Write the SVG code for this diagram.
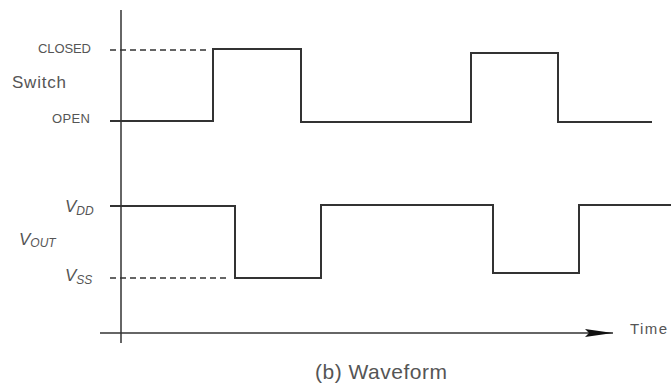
<svg xmlns="http://www.w3.org/2000/svg" width="671" height="391" viewBox="0 0 671 391">
<style>
.w{fill:none;stroke:#333;stroke-width:2;stroke-linejoin:miter}
.ax{fill:none;stroke:#333;stroke-width:1.5}
.d{fill:none;stroke:#333;stroke-width:1.3;stroke-dasharray:6,4}
text{font-family:"Liberation Sans","DejaVu Sans",sans-serif;fill:#555}
.s{font-size:13px}
.m{font-size:17px}
.sub{font-size:12px;font-style:italic}
.v{font-size:17px;font-style:italic}
</style>
<defs>
<marker id="ah" markerWidth="28" markerHeight="10" refX="28" refY="5" orient="auto" markerUnits="userSpaceOnUse">
<path d="M0,1 L28,5 L0,9 L4,5 Z" fill="#111"/>
</marker>
</defs>
<g id="axes">
<line class="ax" x1="121" y1="10" x2="121" y2="343"/>
<line class="ax" x1="100" y1="333" x2="613" y2="333" marker-end="url(#ah)"/>
</g>
<g id="connectors">
<line class="d" x1="110" y1="50" x2="208" y2="50"/>
<line class="d" x1="110" y1="278" x2="230" y2="278"/>
</g>
<g id="switch-wave">
<polyline class="w" points="110,121 213,121 213,49 301,49 301,122 471,122 471,53 558,53 558,122 652,122"/>
</g>
<g id="vout-wave">
<polyline class="w" points="110,206 235,206 235,278 321,278 321,205 493,205 493,273 579,273 579,205 671,205"/>
</g>
<g id="labels">
<text class="s" x="38" y="53" textLength="53">CLOSED</text>
<text class="m" x="12" y="88" textLength="54">Switch</text>
<text class="s" x="52" y="123" textLength="38">OPEN</text>
<text x="65" y="212"><tspan class="v">V</tspan><tspan class="sub" dy="3">DD</tspan></text>
<text x="19" y="245"><tspan class="v">V</tspan><tspan class="sub" dy="2">OUT</tspan></text>
<text x="65" y="281"><tspan class="v">V</tspan><tspan class="sub" dy="3">SS</tspan></text>
<text x="630" y="334" style="font-size:15px" textLength="37">Time</text>
<text x="315" y="379" style="font-size:21px" textLength="132">(b) Waveform</text>
</g>
</svg>
